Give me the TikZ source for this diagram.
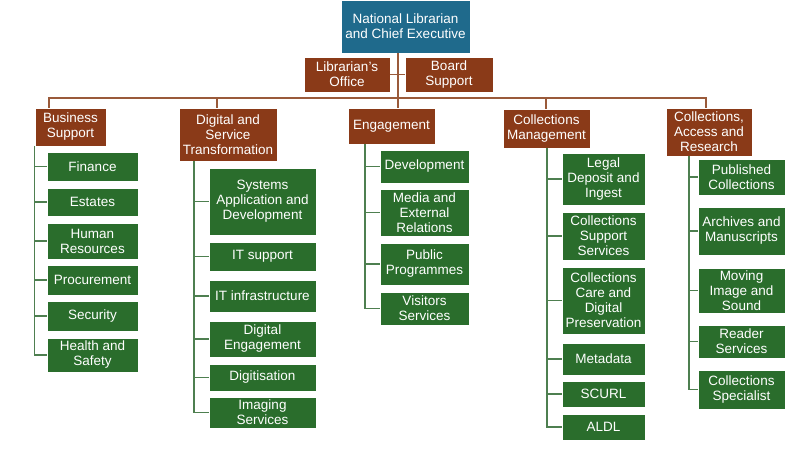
\documentclass[tikz,border=0pt]{standalone}
\usepackage{fontspec}
\setmainfont{Liberation Sans}
\definecolor{cblue}{HTML}{1F6A8C}
\definecolor{cbrown}{HTML}{8A3A18}
\definecolor{cgreen}{HTML}{2A6D2C}
\definecolor{lbrown}{HTML}{9A5A3A}
\definecolor{lgreen}{HTML}{4E7F50}
\newcommand{\bx}[7]{\node[#2, minimum width={(#5-#3)*1pt}, minimum height={(#6-#4)*1pt}] (#1) at ({(#3+#5)/2},{(#4+#6)/2}) {#7};}
\begin{document}
\begin{tikzpicture}[x=1pt,y=-1pt,
  base/.style={draw=white,line width=0.8pt,inner sep=1pt,align=center,text=white,font=\fontsize{13.5}{15}\selectfont},
  tbox/.style={base,fill=cblue},
  rbox/.style={base,fill=cbrown},
  gbox/.style={base,fill=cgreen},
  bl/.style={draw=lbrown,line width=1.6pt},
  gl/.style={draw=lgreen,line width=1.6pt}]
\useasboundingbox (0,0) rectangle (800,450);
% top
\bx{top}{tbox}{341}{0}{470}{53}{National Librarian\\and Chief Executive}
\bx{lo}{rbox}{304}{57}{390}{92}{Librarian's\\Office}
\bx{bs}{rbox}{405}{57}{493}{92}{Board\\Support}
% level 2
\bx{bus}{rbox}{35}{108}{106}{146}{Business\\Support}
\bx{dig}{rbox}{179}{108}{277}{161}{Digital and\\Service\\Transformation}
\bx{eng}{rbox}{348}{108}{435}{144}{Engagement}
\bx{cm}{rbox}{503}{109}{590}{148}{Collections\\Management}
\bx{car}{rbox}{666}{108}{752}{156}{Collections,\\Access and\\Research}
\coordinate (hub) at (398,98);
\draw[bl] (top.south -| hub) -- (hub) -- (hub |- eng.north);
\draw[bl] (lo.east) -- (bs.west);
\draw[bl] (hub) -| (49,98) coordinate (hb) -- (hb |- bus.north);
\draw[bl] (hub) -- (217,98) coordinate (hd) -- (hd |- dig.north);
\draw[bl] (hub) -- (546,98) coordinate (hc) -- (hc |- cm.north);
\draw[bl] (hub) -- (706,98) coordinate (ha) -- (ha |- car.north);
% Business Support children
\bx{fin}{gbox}{47}{152}{138}{181}{Finance}
\bx{est}{gbox}{47}{188}{138}{216}{Estates}
\bx{hr}{gbox}{47}{223}{138}{259}{Human\\Resources}
\bx{pro}{gbox}{47}{265}{138}{295}{Procurement}
\bx{sec}{gbox}{47}{301}{138}{331}{Security}
\bx{hs}{gbox}{47}{338}{138}{372}{Health and\\Safety}
\coordinate (pb) at (bus.south west);
\foreach \c in {fin,est,hr,pro,sec,hs} \draw[gl] (pb) |- (\c.west);
% Digital children
\bx{sys}{gbox}{209}{168}{316}{235}{Systems\\Application and\\Development}
\bx{its}{gbox}{209}{242}{316}{271}{IT support}
\bx{iti}{gbox}{209}{280}{316}{312}{IT infrastructure}
\bx{de}{gbox}{209}{321}{316}{357}{Digital\\Engagement}
\bx{dgt}{gbox}{209}{364}{316}{391}{Digitisation}
\bx{img}{gbox}{209}{397}{316}{428}{Imaging\\Services}
\coordinate (pd) at (194,161);
\foreach \c in {sys,its,iti,de,dgt,img} \draw[gl] (pd) |- (\c.west);
% Engagement children
\bx{dev}{gbox}{380}{150}{469}{183}{Development}
\bx{med}{gbox}{380}{189}{469}{236}{Media and\\External\\Relations}
\bx{pp}{gbox}{380}{243}{469}{285}{Public\\Programmes}
\bx{vs}{gbox}{380}{292}{469}{325}{Visitors\\Services}
\coordinate (pe) at (365,144);
\foreach \c in {dev,med,pp,vs} \draw[gl] (pe) |- (\c.west);
% Collections Management children
\bx{ld}{gbox}{562}{153}{645}{205}{Legal\\Deposit and\\Ingest}
\bx{css}{gbox}{562}{212}{645}{260}{Collections\\Support\\Services}
\bx{ccd}{gbox}{562}{267}{645}{334}{Collections\\Care and\\Digital\\Preservation}
\bx{met}{gbox}{562}{343}{645}{375}{Metadata}
\bx{scu}{gbox}{562}{381}{645}{407}{SCURL}
\bx{ald}{gbox}{562}{414}{645}{440}{ALDL}
\coordinate (pc) at (547,148);
\foreach \c in {ld,css,ccd,met,scu,ald} \draw[gl] (pc) |- (\c.west);
% CAR children
\bx{pub}{gbox}{698}{159}{785}{195}{Published\\Collections}
\bx{arc}{gbox}{698}{207}{785}{255}{Archives and\\Manuscripts}
\bx{mov}{gbox}{698}{268}{785}{313}{Moving\\Image and\\Sound}
\bx{rs}{gbox}{698}{325}{785}{358}{Reader\\Services}
\bx{cs}{gbox}{698}{370}{785}{409}{Collections\\Specialist}
\coordinate (pa) at (689,156);
\foreach \c in {pub,arc,mov,rs,cs} \draw[gl] (pa) |- (\c.west);
\end{tikzpicture}
\end{document}
